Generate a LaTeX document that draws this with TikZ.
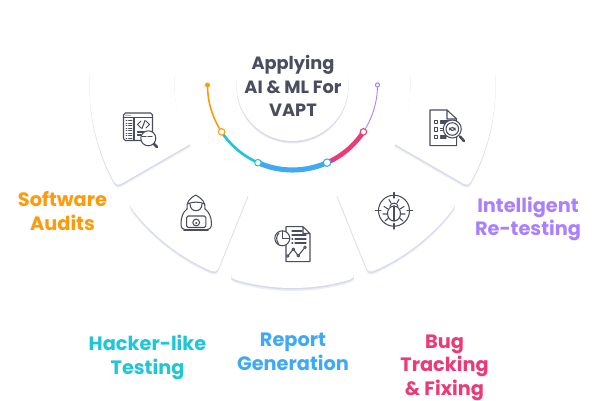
\documentclass[tikz,border=0pt]{standalone}
\usepackage{fontspec}
\setmainfont{Poppins}
\usetikzlibrary{arrows.meta,positioning}
\definecolor{VaptInk}{HTML}{4A4D5E}
\definecolor{VaptOrange}{HTML}{FF9A0D}
\definecolor{VaptTeal}{HTML}{1EC6D6}
\definecolor{VaptBlue}{HTML}{3FA9F5}
\definecolor{VaptPink}{HTML}{EC3A76}
\definecolor{VaptPurple}{HTML}{AB80FF}
\definecolor{VaptShade}{HTML}{D6D9E9}
\definecolor{VaptHaze}{HTML}{ECEEF6}
\tikzset{
  steplabel/.style={font=\fontsize{11}{13.4}\selectfont\bfseries, align=center, inner sep=0pt},
  titlelabel/.style={font=\fontsize{10.1}{13.2}\selectfont\bfseries, align=center, inner sep=0pt, text=VaptInk},
  ringdot/.style={circle, fill=white, inner sep=0pt, line width=0.6pt},
  iconline/.style={draw=VaptInk, line width=0.6pt, line cap=round, line join=round},
  iconscope/.style={shift={(0,400)}, yscale=-1}
}
% one fan blade: start angle, end angle, outer radius, inner radius
\newcommand{\fanblade}[4]{(#1:#4) -- (#1:#3-10) .. controls (#1:#3) .. (#1+3:#3) arc[start angle=#1+3, end angle=#2-3, radius=#3] .. controls (#2:#3) .. (#2:#3-10) -- (#2:#4) arc[start angle=#2, end angle=#1, radius=#4] -- cycle}
\begin{document}
\begin{tikzpicture}[x=0.02cm, y=0.02cm]
\useasboundingbox (0,0) rectangle (600,400);
\fill[white] (0,0) rectangle (600,400);
% fan blades and their soft edge
\begin{scope}[shift={(292.5,315)}]
\foreach \from/\to in {174/210, 216/248, 252/288, 292/324, 330/366} {
  \fill[VaptHaze, yshift=-0.06cm] \fanblade{\from}{\to}{203}{118};
  \fill[VaptShade, yshift=-0.03cm] \fanblade{\from}{\to}{203}{118};
  \fill[white] \fanblade{\from}{\to}{203}{118};
}
\fill[VaptHaze] (0,-2.5) circle[radius=56];
\fill[VaptShade] (0,-1.5) circle[radius=56];
\fill[white] (0,0) circle[radius=56];
% ring
\foreach \from/\to/\col/\wd in {180/213.5/VaptOrange/0.9pt, 213.5/246/VaptTeal/1.5pt, 246/294/VaptBlue/2.9pt, 294/326.5/VaptPink/2.6pt, 326.5/360/VaptPurple/0.5pt} {
  \draw[\col, line width=\wd] (\from:85) arc[start angle=\from, end angle=\to, radius=85];
}
\node[ringdot, fill=VaptOrange, minimum size=0.1cm] (dotstart) at (180:85) {};
\node[ringdot, draw=VaptOrange, minimum size=0.13cm] (dotteal) at (213.5:85) {};
\node[ringdot, draw=VaptTeal, minimum size=0.13cm] (dotblue) at (246:85) {};
\node[ringdot, draw=VaptBlue, minimum size=0.15cm] (dotpink) at (294:85) {};
\node[ringdot, draw=VaptPink, minimum size=0.13cm] (dotpurple) at (326.5:85) {};
\node[ringdot, draw=VaptPurple, minimum size=0.08cm] (dotend) at (360:85) {};
\end{scope}
% labels
\node[titlelabel] (title) at (293,314) {Applying\\AI \& ML For\\VAPT};
\node[steplabel, text=VaptOrange] (audits) at (62.5,189) {Software\\Audits};
\node[steplabel, text=VaptTeal] (hacker) at (147.5,42.5) {Hacker-like\\Testing};
\node[steplabel, text=VaptBlue] (genreport) at (293,48) {Report\\Generation};
\node[steplabel, text=VaptPink] (bugfix) at (444.5,32.5) {Bug\\Tracking\\\& Fixing};
\node[steplabel, text=VaptPurple] (retest) at (528,181) {Intelligent\\Re-testing};
% software audit icon
\begin{scope}[iconscope]
\draw[iconline, rounded corners=1pt] (123.5,113) rectangle (152.5,140.5);
\draw[iconline] (123.5,117.5) -- (152.5,117.5) (134,117.5) -- (134,140.5);
\foreach \yy in {120.5,123,125.5,128,130.5,133,135.5,138} {
  \draw[iconline, line width=0.5pt] (126,\yy) -- (127,\yy) (128.5,\yy) -- (132,\yy);
}
\foreach \xx in {126,128,130} { \fill[VaptInk] (\xx,115.2) circle[radius=0.6]; }
\draw[iconline] (141,121) -- (137.5,124.5) -- (141,128) (146,121) -- (149.5,124.5) -- (146,128) (145,120.5) -- (142,128.5);
\draw[iconline] (137.5,132) -- (147,132) (137.5,135) -- (141,135);
\draw[iconline, fill=white] (148.3,138.3) circle[radius=7.5];
\draw[iconline] (142.5,136.5) -- (146,136.5) (148,136.5) -- (152,136.5);
\draw[iconline, line width=1.5pt] (154,144) -- (157,147);
\end{scope}
% hacker icon
\begin{scope}[iconscope]
\draw[iconline] (187,209) .. controls (186,202) and (190,198) .. (195.7,195) .. controls (201,198) and (206,202) .. (205,209);
\draw[iconline] (187.5,204) .. controls (192,201.5) and (200,201.5) .. (204.5,204);
\draw[iconline] (190,204) .. controls (190,213) and (202,213) .. (202,204);
\draw[iconline] (187,209) .. controls (183,212) and (181,217) .. (181,224) .. controls (181,228) and (183,230) .. (186,230);
\draw[iconline] (205,209) .. controls (209,212) and (211.5,217) .. (211.5,224) .. controls (211.5,228) and (209,230) .. (206,230);
\draw[iconline, rounded corners=0.8pt] (186.7,216) rectangle (205.8,227.5);
\draw[iconline, line width=1pt] (184,230) -- (208,230);
\draw[iconline] (196.2,222.5) circle[radius=3.4];
\fill[VaptInk] (196.2,223) circle[radius=1.1];
\end{scope}
% report icon
\begin{scope}[iconscope]
\draw[iconline] (303,226.7) -- (286,226.7) -- (286,261.7) -- (310,261.7) -- (310,233.5) -- (303,226.7) -- (303,233.5) -- (310,233.5);
\draw[iconline, fill=white] (282.3,238.3) circle[radius=7.5];
\draw[iconline] (282.3,231) -- (282.3,238.3) -- (289.5,238.3);
\draw[iconline] (278.5,244) .. controls (276,240) and (276,236) .. (279,233);
\draw[iconline] (292,231) -- (302,231) (292,235) -- (306,235) (292,239) -- (292.8,239) (295,239) -- (306,239) (292,243) -- (292.8,243) (295,243) -- (306,243);
\draw[iconline] (287.7,256) -- (293.3,249.3) -- (298.3,255.7) -- (305,247.3);
\foreach \xx/\yy in {287.7/256, 293.3/249.3, 298.3/255.7, 305/247.3} {
  \draw[iconline, fill=white] (\xx,\yy) circle[radius=1.3];
}
\end{scope}
% bug icon
\begin{scope}[iconscope]
\draw[iconline] (394,210.7) circle[radius=15.5];
\draw[iconline] (394,192.5) -- (394,198) (394,223.5) -- (394,229) (375.5,210.7) -- (381,210.7) (407,210.7) -- (412.5,210.7);
\draw[iconline] (394,213.5) ellipse[x radius=6.5, y radius=7.5];
\draw[iconline] (394,206) -- (394,221);
\draw[iconline] (390,206.5) .. controls (390,202) and (398,202) .. (398,206.5);
\draw[iconline] (391,203) -- (389,199.5) (397,203) -- (399,199.5);
\draw[iconline] (388,209) -- (384,206.5) (400,209) -- (404,206.5) (387.5,214) -- (383,214) (400.5,214) -- (405,214) (388.5,218) -- (385,221) (399.5,218) -- (403,221);
\end{scope}
% re-test icon
\begin{scope}[iconscope]
\draw[iconline] (447,110) -- (430,110) -- (430,145.7) -- (456.7,145.7) -- (456.7,119) -- (447,110) -- (447,119) -- (456.7,119);
\foreach \yy in {122,129.5,137} {
  \draw[iconline] (434.2,\yy-1.8) rectangle (437.8,\yy+1.8);
  \draw[iconline] (440.5,\yy-1) -- (449,\yy-1) (440.5,\yy+1) -- (446,\yy+1);
}
\draw[iconline, fill=white] (452.3,129) circle[radius=9];
\draw[iconline] (452.3,129) circle[radius=6.3];
\draw[iconline] (449.5,130) arc[start angle=190, end angle=350, radius=3] (455.2,128) arc[start angle=10, end angle=170, radius=3];
\draw[iconline, line width=1.5pt] (460,136.5) -- (464,141);
\end{scope}
\end{tikzpicture}
\end{document}
